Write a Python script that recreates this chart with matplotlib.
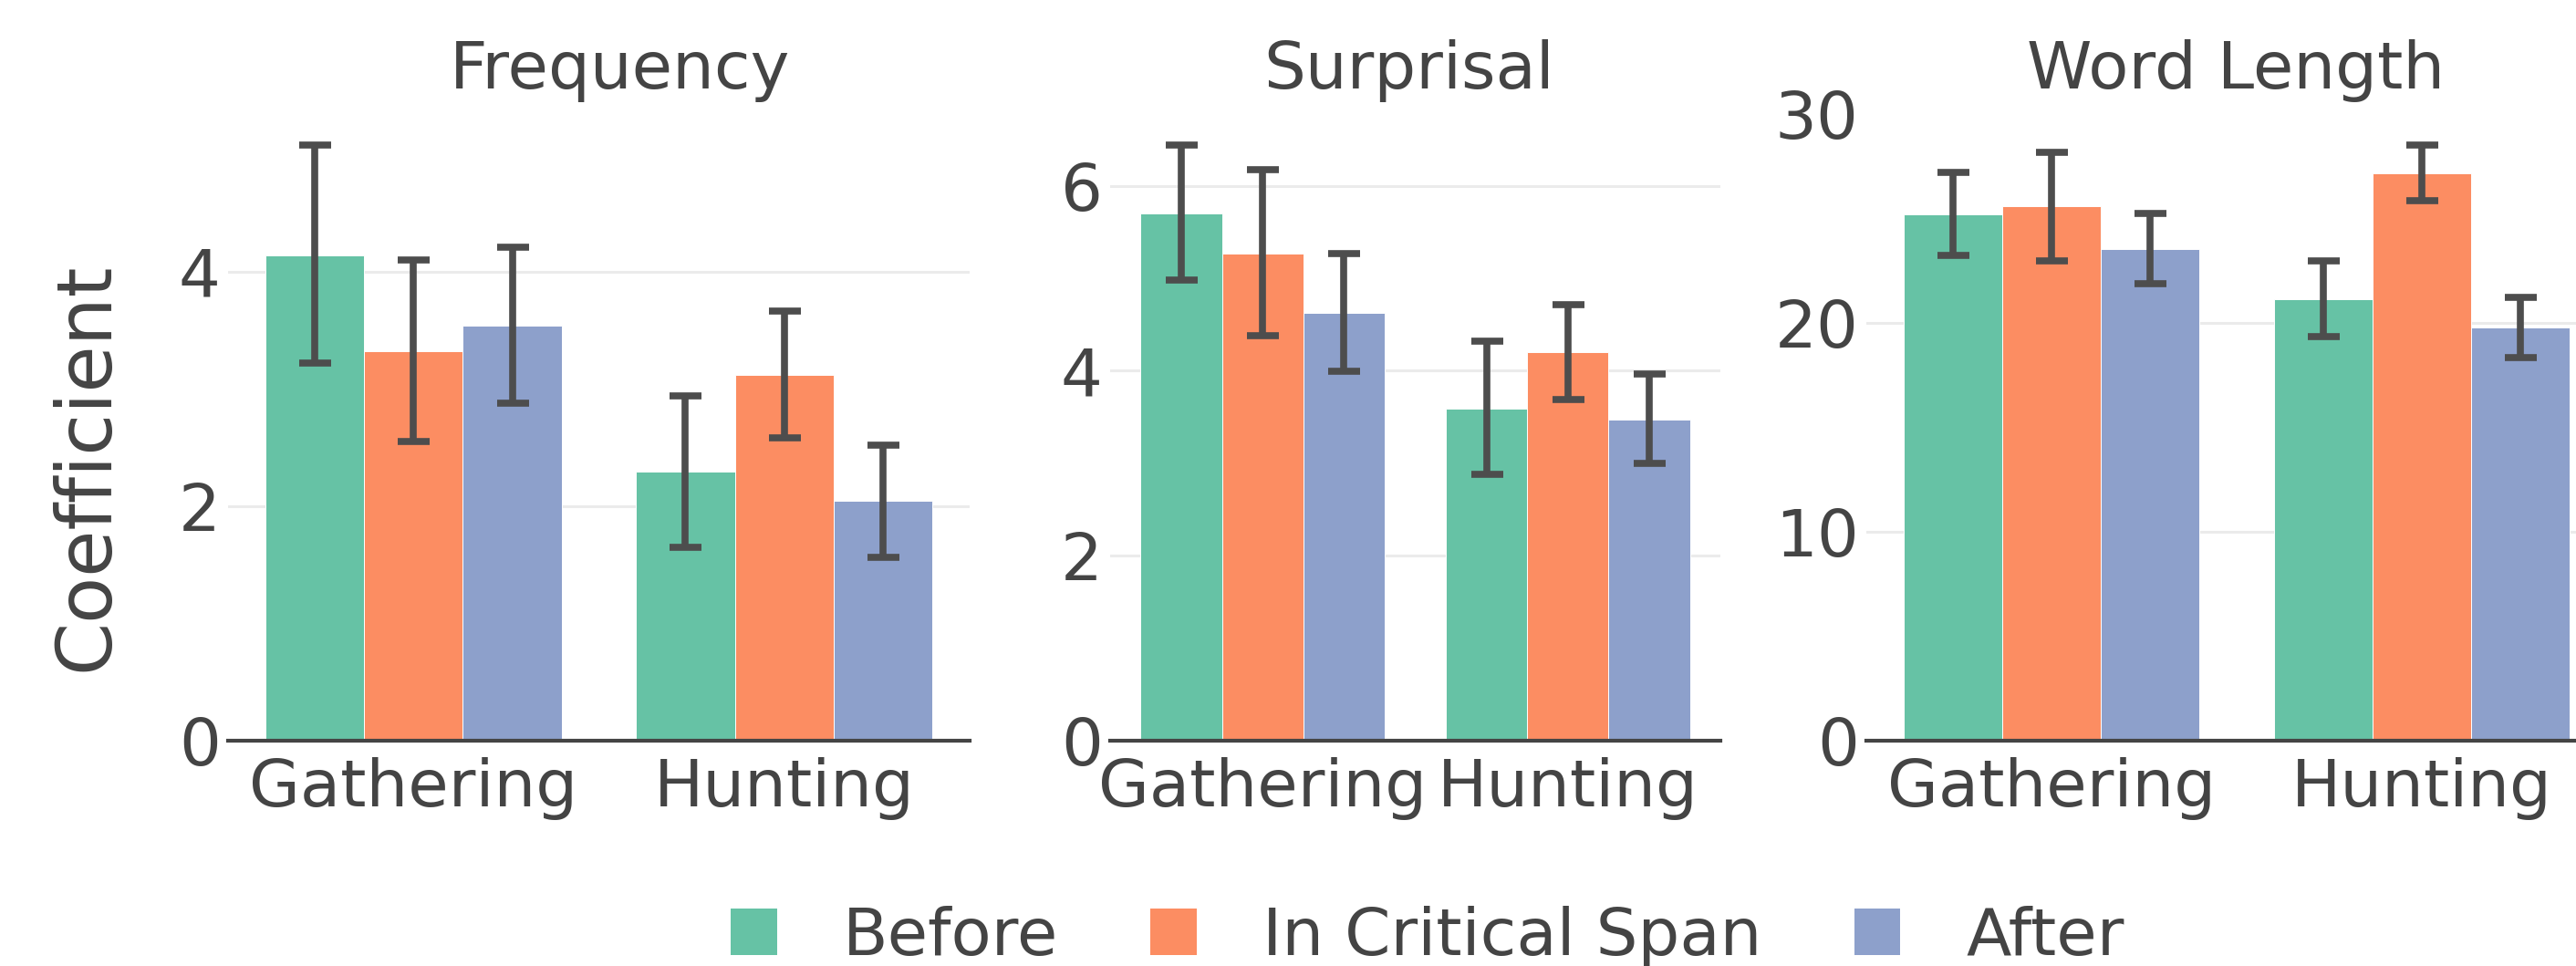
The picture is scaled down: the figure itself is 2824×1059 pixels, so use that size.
import numpy as np
import matplotlib.pyplot as plt
from matplotlib.patches import Patch

plt.rcParams['font.family'] = ['DejaVu Sans']

categories = ['Gathering', 'Hunting']
series = ['Before', 'In Critical Span', 'After']
colors = ['#66c2a5', '#fc8d62', '#8da0cb']

# Frequency
freq_before = [4.14, 2.29]
freq_before_lo = [3.22, 1.65]
freq_before_hi = [5.08, 2.94]
freq_crit = [3.32, 3.12]
freq_crit_lo = [2.55, 2.58]
freq_crit_hi = [4.10, 3.66]
freq_after = [3.54, 2.04]
freq_after_lo = [2.88, 1.56]
freq_after_hi = [4.21, 2.52]

# Surprisal
surp_before = [5.70, 3.59]
surp_before_lo = [4.98, 2.88]
surp_before_hi = [6.44, 4.32]
surp_crit = [5.27, 4.20]
surp_crit_lo = [4.38, 3.69]
surp_crit_hi = [6.18, 4.72]
surp_after = [4.63, 3.47]
surp_after_lo = [3.99, 3.00]
surp_after_hi = [5.27, 3.97]

# Word Length
wl_before = [25.19, 21.13]
wl_before_lo = [23.21, 19.32]
wl_before_hi = [27.20, 22.96]
wl_crit = [25.58, 27.16]
wl_crit_lo = [22.98, 25.85]
wl_crit_hi = [28.17, 28.51]
wl_after = [23.54, 19.77]
wl_after_lo = [21.85, 18.35]
wl_after_hi = [25.24, 21.22]

panels = [
    ('Frequency', [freq_before, freq_crit, freq_after],
     [freq_before_lo, freq_crit_lo, freq_after_lo],
     [freq_before_hi, freq_crit_hi, freq_after_hi], [0, 2, 4], 5.345),
    ('Surprisal', [surp_before, surp_crit, surp_after],
     [surp_before_lo, surp_crit_lo, surp_after_lo],
     [surp_before_hi, surp_crit_hi, surp_after_hi], [0, 2, 4, 6], 6.78),
    ('Word Length', [wl_before, wl_crit, wl_after],
     [wl_before_lo, wl_crit_lo, wl_after_lo],
     [wl_before_hi, wl_crit_hi, wl_after_hi], [0, 10, 20, 30], 30.0),
]

W, H = 2824, 1059
fig = plt.figure(figsize=(W / 100, H / 100), dpi=100)

# axes boxes in pixels (left, right); the last panel runs off the right edge
boxes = [(250, 1063), (1217, 1886), (2046, 2858)]
title_x = [680, 1545, 2451]
y_bot, y_top = 811.5, 125

txt = '#444444'
fs = 52
barw = 0.8 / 3
x = np.arange(len(categories))

for k, (title, vals, los, his, ticks, ymax) in enumerate(panels):
    l, r = boxes[k]
    ax = fig.add_axes([l / W, 1 - y_bot / H, (r - l) / W, (y_bot - y_top) / H])
    for i in range(3):
        v = np.array(vals[i])
        lo = np.array(los[i])
        hi = np.array(his[i])
        xpos = x + (i - 1) * barw
        ax.bar(xpos, v, width=barw, color=colors[i], edgecolor='white',
               linewidth=0.7, zorder=2)
        ax.errorbar(xpos, v, yerr=[v - lo, hi - v], fmt='none',
                    ecolor='#4d4d4d', elinewidth=5.5, capsize=12.6,
                    capthick=5.5, zorder=3)
    ax.set_xlim(-0.5, 1.5)
    ax.set_ylim(0, ymax)
    ax.set_yticks(ticks)
    ax.set_xticks(x)
    ax.set_xticklabels(categories)
    ax.tick_params(axis='both', length=0, labelsize=fs, colors=txt)
    ax.tick_params(axis='x', pad=13)
    ax.tick_params(axis='y', pad=6)
    for s in ['left', 'right', 'top']:
        ax.spines[s].set_visible(False)
    ax.spines['bottom'].set_color('#444444')
    ax.spines['bottom'].set_linewidth(3)
    ax.spines['bottom'].set_zorder(4)
    ax.yaxis.grid(True, color='#ebebeb', linewidth=2.2)
    ax.set_axisbelow(True)
    if ticks[-1] >= ymax:
        ax.get_ygridlines()[-1].set_visible(False)
    fig.text(title_x[k] / W, 1 - 97 / H, title, ha='center', va='baseline',
             fontsize=fs, color=txt)

fig.text(118 / W, 1 - 512 / H, 'Coefficient', rotation=90,
         rotation_mode='anchor', ha='center', va='baseline',
         fontsize=60, color=txt)

handles = [Patch(facecolor=c, edgecolor='none') for c in colors]
fig.legend(handles, series, loc='center', bbox_to_anchor=(1565 / W, 0.03),
           ncol=3, frameon=False, fontsize=fs, handlelength=0.7,
           handleheight=0.7, handletextpad=1.0, columnspacing=1.4,
           borderpad=0, labelcolor=txt)

fig.savefig('out.png', dpi=100)
